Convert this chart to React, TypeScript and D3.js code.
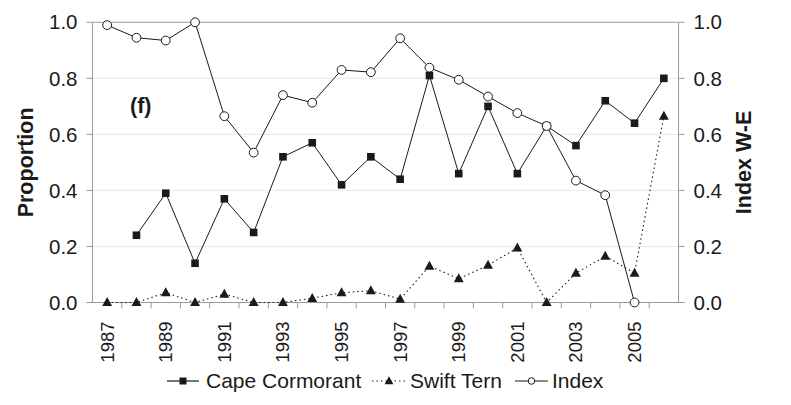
import React from "react";
import * as d3 from "d3";

// years on the x axis (band categories)
const years = d3.range(1987, 2007).map(String);
const tickYears = ["1987", "1989", "1991", "1993", "1995", "1997", "1999", "2001", "2003", "2005"];
const yTicks = [0, 0.2, 0.4, 0.6, 0.8, 1.0];

// Cape Cormorant proportion (from 1988)
const cormorantYears = d3.range(1988, 2007).map(String);
const cormorant = [0.24, 0.39, 0.14, 0.37, 0.25, 0.52, 0.57, 0.42, 0.52, 0.44, 0.81, 0.46, 0.70, 0.46, 0.63, 0.56, 0.72, 0.64, 0.80];

// Swift Tern proportion
const ternYears = d3.range(1987, 2007).map(String);
const tern = [0, 0, 0.035, 0, 0.03, 0, 0, 0.015, 0.035, 0.042, 0.012, 0.13, 0.085, 0.133, 0.195, 0, 0.105, 0.165, 0.105, 0.665];

// Index W-E (right axis)
const indexYears = d3.range(1987, 2006).map(String);
const indexWE = [0.99, 0.945, 0.935, 1.0, 0.665, 0.535, 0.74, 0.713, 0.83, 0.822, 0.943, 0.838, 0.795, 0.735, 0.676, 0.63, 0.435, 0.383, 0.0];

const W = 791;
const H = 405;
const margin = { left: 92.5, right: 112.5, top: 22.3, bottom: 102.5 };
const font = "'Liberation Sans', Arial, sans-serif";
const ink = "#1a1a1a";
const axisColor = "#9a9a9a";

export default function App() {
    const x = d3
        .scaleBand<string>()
        .domain(years)
        .range([margin.left, W - margin.right])
        .padding(0);
    const y = d3.scaleLinear().domain([0, 1]).range([H - margin.bottom, margin.top]);
    const yRight = d3.scaleLinear().domain([0, 1]).range([H - margin.bottom, margin.top]);
    const cx = (yr: string) => (x(yr) as number) + x.bandwidth() / 2;

    const line = (ys: string[], vs: number[], scale: d3.ScaleLinear<number, number>) =>
        d3
            .line<number>()
            .x((_, i) => cx(ys[i]))
            .y((d) => scale(d))(vs) as string;

    const x0 = margin.left;
    const x1 = W - margin.right;
    const yb = y(0);
    const yt = y(1);

    const tri = (px: number, py: number, s: number) =>
        `M${px},${py - s * 0.6}L${px + s * 0.55},${py + s * 0.4}L${px - s * 0.55},${py + s * 0.4}Z`;

    return (
        <svg
            width={W}
            height={H}
            style={{ position: "absolute", left: 0, top: 0, background: "#fff" }}
            fontFamily={font}
        >
            {/* gridlines */}
            {yTicks.slice(1, 5).map((t) => (
                <line key={"g" + t} x1={x0} x2={x1} y1={y(t)} y2={y(t)} stroke="#e8e8e8" strokeWidth={1} />
            ))}
            {/* frame */}
            <line x1={x0} x2={x1} y1={yt} y2={yt} stroke={axisColor} strokeWidth={1} />
            <line x1={x0} x2={x0} y1={yt} y2={yb} stroke={axisColor} strokeWidth={1} />
            <line x1={x1} x2={x1} y1={yt} y2={yb} stroke={axisColor} strokeWidth={1} />
            <line x1={x0 - 6} x2={x1 + 6} y1={yb} y2={yb} stroke={axisColor} strokeWidth={1.2} />

            {/* left y ticks */}
            {yTicks.map((t) => (
                <g key={"yl" + t}>
                    <line x1={x0 - 6} x2={x0} y1={y(t)} y2={y(t)} stroke={axisColor} />
                    <text x={x0 - 15} y={y(t)} dy="0.35em" textAnchor="end" fontSize={20.5} fill={ink}>
                        {t.toFixed(1)}
                    </text>
                </g>
            ))}
            {/* right y ticks */}
            {yTicks.map((t) => (
                <g key={"yr" + t}>
                    <line x1={x1} x2={x1 + 6} y1={yRight(t)} y2={yRight(t)} stroke={axisColor} />
                    <text x={x1 + 15} y={yRight(t)} dy="0.35em" textAnchor="start" fontSize={20.5} fill={ink}>
                        {t.toFixed(1)}
                    </text>
                </g>
            ))}

            {/* x ticks at band boundaries */}
            {years.slice(1).map((yr) => (
                <line key={"xt" + yr} x1={x(yr)} x2={x(yr)} y1={yb} y2={yb + 6} stroke={axisColor} />
            ))}
            {tickYears.map((yr) => (
                <text
                    key={"xl" + yr}
                    transform={`translate(${cx(yr)},${yb + 19}) rotate(-90)`}
                    dy="0.35em"
                    textAnchor="end"
                    fontSize={18.5}
                    fill={ink}
                >
                    {yr}
                </text>
            ))}

            {/* axis titles */}
            <text
                transform={`translate(33,${(yt + yb) / 2}) rotate(-90)`}
                textAnchor="middle"
                fontSize={21.5}
                fontWeight="bold"
                fill={ink}
            >
                Proportion
            </text>
            <text
                transform={`translate(751,${(yt + yb) / 2}) rotate(-90)`}
                textAnchor="middle"
                fontSize={21.5}
                fontWeight="bold"
                fill={ink}
            >
                Index W-E
            </text>

            <text x={130} y={112.5} fontSize={21.5} fontWeight="bold" fill={ink}>
                (f)
            </text>

            {/* Swift Tern */}
            <path d={line(ternYears, tern, y)} fill="none" stroke={ink} strokeWidth={1.1} strokeDasharray="1.5,3" />
            {tern.map((v, i) => (
                <path key={"t" + i} d={tri(cx(ternYears[i]), y(v), 9)} fill={ink} />
            ))}

            {/* Index W-E */}
            <path d={line(indexYears, indexWE, yRight)} fill="none" stroke={ink} strokeWidth={1} />

            {/* Cape Cormorant */}
            <path d={line(cormorantYears, cormorant, y)} fill="none" stroke={ink} strokeWidth={1} />
            {cormorant.map((v, i) => (
                <rect key={"c" + i} x={cx(cormorantYears[i]) - 3.8} y={y(v) - 3.8} width={7.6} height={7.6} fill={ink} />
            ))}

            {indexWE.map((v, i) => (
                <circle key={"i" + i} cx={cx(indexYears[i])} cy={yRight(v)} r={4.4} fill="#fff" stroke={ink} strokeWidth={1} />
            ))}

            {/* legend */}
            <g fontSize={21} fill={ink}>
                <line x1={167} x2={199} y1={381} y2={381} stroke={ink} strokeWidth={1.2} />
                <rect x={179.5} y={377.5} width={7} height={7} fill={ink} />
                <text x={206} y={381} dy="0.35em">Cape Cormorant</text>

                <line x1={372} x2={406} y1={381} y2={381} stroke={ink} strokeWidth={1.2} strokeDasharray="1.5,3" />
                <path d={tri(389, 381, 8)} fill={ink} />
                <text x={410} y={381} dy="0.35em">Swift Tern</text>

                <line x1={515} x2={548} y1={381} y2={381} stroke={ink} strokeWidth={1.2} />
                <circle cx={531.5} cy={381} r={3.3} fill="#fff" stroke={ink} strokeWidth={1} />
                <text x={552} y={381} dy="0.35em">Index</text>
            </g>
        </svg>
    );
}
